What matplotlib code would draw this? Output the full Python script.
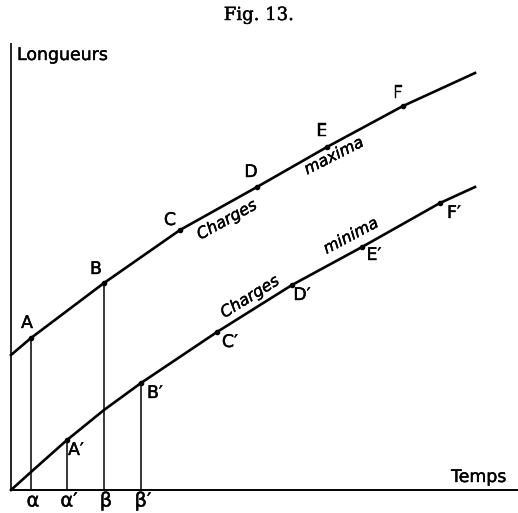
import matplotlib
matplotlib.use("Agg")
import matplotlib.pyplot as plt
import matplotlib.patheffects as pe

# ---- data (time units along x, length units along y; origin at axes corner) ----
t_max = [0, 20, 93, 169, 246, 316, 392, 464]
L_max = [135, 152, 207, 260, 303, 343, 384, 417]
max_point_idx = [1, 2, 3, 4, 5, 6]
max_labels = ["A", "B", "C", "D", "E", "F"]

t_min = [0, 20, 56, 93, 130, 206, 281, 351, 429, 464]
L_min = [0, 18, 50, 80, 107, 158, 205, 243, 287, 303]
min_point_idx = [2, 4, 5, 6, 7, 8]
min_labels = ["A\u2032", "B\u2032", "C\u2032", "D\u2032", "E\u2032", "F\u2032"]

# verticals: (time, height)
vert_t = [20, 56, 93, 130]
vert_L = [152, 50, 207, 107]
vert_labels = ["\u03b1", "\u03b1\u2032", "\u03b2", "\u03b2\u2032"]

title = "Fig. 13."
y_label = "Longueurs"
x_label = "Temps"

ink = [pe.withStroke(linewidth=0.3, foreground="black")]

fig = plt.figure(figsize=(5.18, 5.13), dpi=100)
ax = fig.add_axes([0, 0, 1, 1])
ax.set_xlim(-11, 507)
ax.set_ylim(-23, 490)
ax.axis("off")

# axes lines
ax.plot([0, 0], [0, 447], color="black", lw=1.2, solid_capstyle="butt")
ax.plot([0, 507], [0, 0], color="black", lw=1.4, solid_capstyle="butt")

# curves
ax.plot(t_max, L_max, color="black", lw=1.9, solid_joinstyle="round")
ax.plot(t_min, L_min, color="black", lw=1.9, solid_joinstyle="round")

# points
ax.plot([t_max[i] for i in max_point_idx], [L_max[i] for i in max_point_idx],
        "o", color="black", ms=3)
ax.plot([t_min[i] for i in min_point_idx], [L_min[i] for i in min_point_idx],
        "o", color="black", ms=3)

# vertical lines
for t, L in zip(vert_t, vert_L):
    ax.plot([t, t], [0, L], color="black", lw=1.1)

lab_font = dict(family="DejaVu Sans", fontsize=12.5, color="black", path_effects=ink)
# upper labels (above-left of points)
up_off = [(-4, 15), (-8, 14), (-10, 10), (-6, 15), (-5, 16), (-5, 13)]
for i, lab, (dx, dy) in zip(max_point_idx, max_labels, up_off):
    ax.text(t_max[i] + dx, L_max[i] + dy, lab, ha="center", va="center", **lab_font)
# lower labels (below-right)
lo_off = [(9, -10), (14, -10), (13, -10), (10, -10), (12, -8), (14, -10)]
for i, lab, (dx, dy) in zip(min_point_idx, min_labels, lo_off):
    ax.text(t_min[i] + dx, L_min[i] + dy, lab, ha="center", va="center", **lab_font)

# greek labels under x-axis
for t, lab in zip(vert_t, vert_labels):
    ax.text(t + 2, -11, lab, ha="center", va="center", family="DejaVu Sans",
            fontsize=14, color="black", path_effects=ink)

# curve annotations
it = dict(family="DejaVu Sans", fontsize=11.5, style="italic", color="black",
          ha="center", va="center", path_effects=ink)
ax.text(216, 270, "Charges", rotation=29, **it)
ax.text(323, 334, "maxima", rotation=27, **it)
ax.text(239, 193, "Charges", rotation=32, **it)
ax.text(340, 254, "minima", rotation=28, **it)

# axis titles
ax.text(6, 435, y_label, ha="left", va="center", family="DejaVu Sans", fontsize=12.5,
        path_effects=ink)
ax.text(468, 13, x_label, ha="center", va="center", family="DejaVu Sans", fontsize=12.5,
        path_effects=ink)

fig.text(0.5, 1 - 15 / 513, title, ha="center", va="center", family="DejaVu Serif",
         fontsize=13, path_effects=ink)

fig.savefig("out.png", dpi=100, facecolor="white")
